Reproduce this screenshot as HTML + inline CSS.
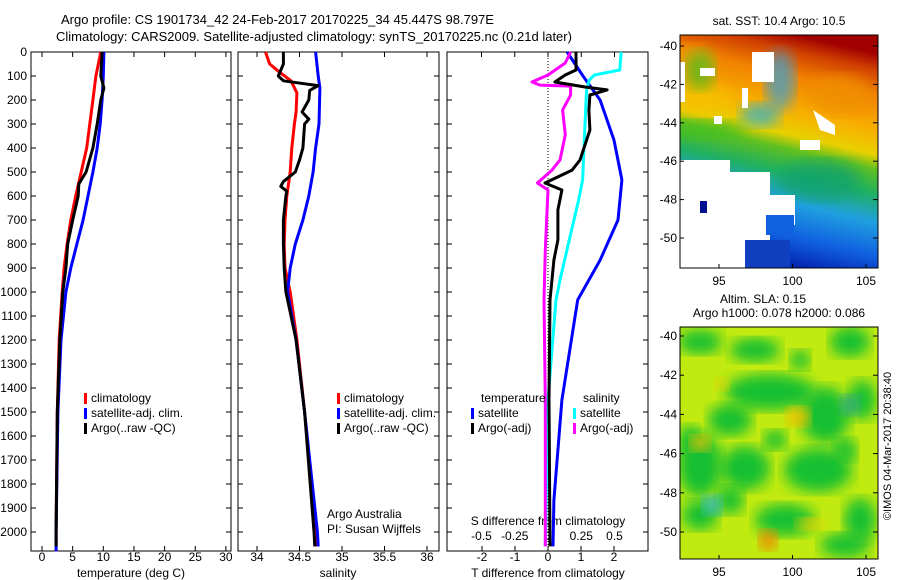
<!DOCTYPE html>
<html><head><meta charset="utf-8"><style>
body{margin:0;background:#fff}
svg{display:block;font-family:"Liberation Sans",sans-serif;font-size:12px}
</style></head><body>
<svg id="c" width="900" height="580" viewBox="0 0 900 580">
<defs>
<linearGradient id="sstg" x1="0.6" y1="0" x2="0.4" y2="1">
<stop offset="0" stop-color="#a00000"/><stop offset="0.07" stop-color="#d04000"/>
<stop offset="0.17" stop-color="#f08000"/><stop offset="0.32" stop-color="#f8b000"/>
<stop offset="0.42" stop-color="#e8d000"/><stop offset="0.48" stop-color="#60c020"/>
<stop offset="0.58" stop-color="#20b060"/><stop offset="0.7" stop-color="#20a0e0"/>
<stop offset="0.84" stop-color="#1060e0"/><stop offset="1" stop-color="#0010a0"/></linearGradient>
<filter id="bl"><feGaussianBlur stdDeviation="7"/></filter>
<clipPath id="m2c"><rect x="680" y="327" width="198" height="232"/></clipPath>
<clipPath id="m1c"><rect x="680" y="35" width="198" height="233"/></clipPath>
</defs>
<g id="root"></g>
</svg>
<script>
// ---- data (depth in dbar) ----
const tDepth=[0,100,200,300,400,500,600,700,800,900,1000,1200,1500,2000,2080];
const tClim=[9.6,8.8,8.3,7.8,7.3,6.4,5.5,4.7,4.1,3.6,3.3,2.8,2.5,2.3,2.3];
const tSat=[10.1,10.0,9.8,9.5,9.0,8.3,7.5,6.7,5.7,4.7,3.9,3.1,2.6,2.3,2.3];
const tArgoD=[0,100,150,200,300,400,500,550,600,700,800,900,1000,1200,1500,2000,2060];
const tArgo=[9.8,9.6,10.1,9.6,9.0,8.3,7.2,6.0,5.9,5.0,4.2,3.9,3.4,2.9,2.5,2.3,2.3];
const sClimD=[0,50,80,120,170,250,300,400,500,600,700,800,900,1000,1200,1500,1800,2000,2060];
const sClim=[34.1,34.15,34.25,34.4,34.47,34.46,34.44,34.41,34.39,34.35,34.33,34.32,34.33,34.39,34.47,34.56,34.64,34.69,34.7];
const sSatD=[0,100,150,300,400,500,600,700,800,900,1000,1200,1500,2000,2060];
const sSat=[34.69,34.72,34.74,34.73,34.69,34.66,34.61,34.54,34.45,34.39,34.36,34.46,34.56,34.71,34.72];
const sArgoD=[0,50,100,120,130,140,160,200,250,280,300,400,450,500,540,560,580,600,700,800,900,1000,1200,1500,2000,2060];
const sArgo=[34.31,34.31,34.25,34.31,34.51,34.72,34.62,34.61,34.53,34.61,34.56,34.54,34.5,34.45,34.31,34.28,34.35,34.34,34.31,34.31,34.32,34.34,34.46,34.56,34.67,34.68];
const dTsD=[0,100,200,367,533,700,867,1033,1450,1867,2060];
const dTsat=[0.58,1.06,1.58,2.0,2.24,2.12,1.58,0.9,0.42,0.18,0.15];
const dSsD=[0,75,96,117,158,283,408,533,617,783,950,1033,1450,2060];
const dSsat=[0.55,0.54,0.35,0.31,0.29,0.28,0.27,0.26,0.23,0.16,0.09,0.06,0,-0.02];
const dSaD=[0,46,96,125,138,142,179,242,345,450,492,546,575,825,1033,1450,2060];
const dSargo=[0.17,0.13,0,-0.12,-0.06,0.17,0.17,0.11,0.13,0.09,0.03,-0.08,0,-0.02,-0.03,-0.02,-0.02];
const dTaD=[0,75,96,125,146,158,179,242,325,450,492,546,575,658,783,867,1033,1450,2060];
const dTargo=[0.85,0.85,0.52,0.21,1.12,1.79,1.27,1.24,1.27,0.97,0.73,-0.09,0.42,0.3,0.3,0.18,0.06,0.03,0.06];
const depthTicks=[0,100,200,300,400,500,600,700,800,900,1000,1100,1200,1300,1400,1500,1600,1700,1800,1900,2000];
const tTicks=[0,5,10,15,20,25,30];
const sTicks=[34,34.5,35,35.5,36];
const dTTicks=[-2,-1,0,1,2];
const dSTicks=[-0.5,-0.25,0,0.25,0.5];
const dSTickLbl=["-0.5","-0.25","0","0.25","0.5"];
const latTicks=[-40,-42,-44,-46,-48,-50];
const lonTicks=[95,100,105];

const NS='http://www.w3.org/2000/svg';
const root=document.getElementById('root');
function el(tag,attrs,parent,txt){const e=document.createElementNS(NS,tag);for(const k in attrs)e.setAttribute(k,attrs[k]);if(txt!==undefined)e.textContent=txt;(parent||root).appendChild(e);return e;}
const Y=d=>52+d*0.24;
const P={t:{f:v=>42+v*6.13},s:{f:v=>257+(v-34)*85},d:{fT:v=>548+v*33,fS:v=>548+v*133}};
const TOP=52,BOT=551;
function line(xs,ds,fx,color,name){const pts=xs.map((v,i)=>fx(v).toFixed(1)+','+Y(ds[i]).toFixed(1)).join(' ');
 const p=el('polyline',{points:pts,fill:'none',stroke:color,'stroke-width':3,'stroke-linejoin':'round'});
 
 }
function frame(x0,x1,name,leftLbl){
 const g=el('g',{});
 el('rect',{x:x0,y:TOP,width:x1-x0,height:BOT-TOP,fill:'none',stroke:'#000','stroke-width':1},g);
 depthTicks.forEach(d=>{el('line',{x1:x0,x2:x0+5,y1:Y(d),y2:Y(d),stroke:'#000'},g);el('line',{x1:x1-5,x2:x1,y1:Y(d),y2:Y(d),stroke:'#000'},g);
  if(leftLbl){const t=el('text',{x:27,y:Y(d)+4,'text-anchor':'end'},g,String(d));}});
 return g;}
let g=frame(31,231,'temperature-panel',true);
tTicks.forEach(v=>{const x=P.t.f(v);el('line',{x1:x,x2:x,y1:BOT,y2:BOT-5,stroke:'#000'},g);el('line',{x1:x,x2:x,y1:TOP,y2:TOP+5,stroke:'#000'},g);el('text',{x:x,y:561,'text-anchor':'middle'},g,String(v));});
el('text',{x:131,y:577,'text-anchor':'middle'},g,'temperature (deg C)');
line(tClim,tDepth,P.t.f,'#f00','temp-climatology-line');
line(tSat,tDepth,P.t.f,'#00f','temp-satellite-line');
line(tArgo,tArgoD,P.t.f,'#000','temp-argo-line');
g=frame(238,439,'salinity-panel',false);
sTicks.forEach(v=>{const x=P.s.f(v);el('line',{x1:x,x2:x,y1:BOT,y2:BOT-5,stroke:'#000'},g);el('line',{x1:x,x2:x,y1:TOP,y2:TOP+5,stroke:'#000'},g);el('text',{x:x,y:561,'text-anchor':'middle'},g,String(v));});
el('text',{x:338,y:577,'text-anchor':'middle'},g,'salinity');
line(sClim,sClimD,P.s.f,'#f00','sal-climatology-line');
line(sSat,sSatD,P.s.f,'#00f','sal-satellite-line');
line(sArgo,sArgoD,P.s.f,'#000','sal-argo-line');
el('text',{x:327,y:518},g,'Argo Australia');
el('text',{x:327,y:533},g,'PI: Susan Wijffels');
g=frame(447,648,'difference-panel',false);
el('line',{x1:548,x2:548,y1:TOP,y2:BOT,stroke:'#000','stroke-dasharray':'1,2'},g);
dTTicks.forEach(v=>{const x=P.d.fT(v);el('line',{x1:x,x2:x,y1:BOT,y2:BOT-5,stroke:'#000'},g);el('text',{x:x,y:561,'text-anchor':'middle'},g,String(v));});
dSTicks.forEach((v,i)=>{const x=P.d.fS(v);el('line',{x1:x,x2:x,y1:TOP,y2:TOP+5,stroke:'#000'},g);el('text',{x:x,y:540,'text-anchor':'middle'},g,dSTickLbl[i]);});
el('text',{x:548,y:525,'text-anchor':'middle'},g,'S difference from climatology');
el('text',{x:548,y:577,'text-anchor':'middle'},g,'T difference from climatology');
line(dTsat,dTsD,P.d.fT,'#00f','dt-satellite-line');
line(dSsat,dSsD,P.d.fS,'#0ff','ds-satellite-line');
line(dSargo,dSaD,P.d.fS,'#f0f','ds-argo-line');
line(dTargo,dTaD,P.d.fT,'#000','dt-argo-line');
function leg(x,y,color,txt,name){const lg=el('g',{});
 el('rect',{x:x,y:y-9,width:3,height:11,fill:color},lg);el('text',{x:x+7,y:y},lg,txt);}
leg(84,402,'#f00','climatology','legend-temp-climatology');
leg(84,417,'#00f','satellite-adj. clim.','legend-temp-satellite');
leg(84,432,'#000','Argo(..raw -QC)','legend-temp-argo');
leg(337,402,'#f00','climatology','legend-sal-climatology');
leg(337,417,'#00f','satellite-adj. clim.','legend-sal-satellite');
leg(337,432,'#000','Argo(..raw -QC)','legend-sal-argo');
el('text',{x:481,y:402},null,'temperature');
el('text',{x:583,y:402},null,'salinity');
leg(471,417,'#00f','satellite','legend-dt-satellite');
leg(471,432,'#000','Argo(-adj)','legend-dt-argo');
leg(573,417,'#0ff','satellite','legend-ds-satellite');
leg(573,432,'#f0f','Argo(-adj)','legend-ds-argo');
el('text',{x:61,y:24,'font-size':'13'},null,'Argo profile: CS 1901734_42 24-Feb-2017 20170225_34 45.447S 98.797E');
el('text',{x:56,y:41,'font-size':'13'},null,'Climatology: CARS2009. Satellite-adjusted climatology: synTS_20170225.nc (0.21d later)');
function mapFrame(y0,y1,latTop,pxDeg,name){const mg=el('g',{});
 el('rect',{x:680,y:y0,width:198,height:y1-y0,fill:'none',stroke:'#000'},mg);
 latTicks.forEach(v=>{const y=latTop+(-40-v)*pxDeg;el('line',{x1:873,x2:878,y1:y,y2:y,stroke:'#000'},mg);el('line',{x1:680,x2:684,y1:y,y2:y,stroke:'#000'},mg);el('text',{x:677,y:y+4,'text-anchor':'end'},mg,String(v));});
 lonTicks.forEach(v=>{const x=719+(v-95)*14.7;el('line',{x1:x,x2:x,y1:y1,y2:y1-4,stroke:'#000'},mg);el('text',{x:x,y:y1+17,'text-anchor':'middle'},mg,String(v));});
 return mg;}
// top SST map
const m1=el('g',{'clip-path':'url(#m1c)'});
el('rect',{x:680,y:35,width:198,height:233,fill:'url(#sstg)'},m1);
[[690,65,25,20,'#f8a000'],[700,100,30,15,'#f8c000'],[760,115,20,12,'#20b0e0'],[705,130,40,10,'#40c020'],[780,80,15,30,'#30a0e0'],[840,95,30,20,'#f09000'],[820,180,40,20,'#10a070'],[700,70,15,20,'#40c020']].forEach(b=>el('ellipse',{cx:b[0],cy:b[1],rx:b[2],ry:b[3],fill:b[4],opacity:0.7,filter:'url(#bl)'},m1));
[[680,160,50,108],[730,172,40,96],[770,195,25,30],[680,62,5,40],[752,52,22,30],[800,140,20,10],[714,116,8,8],[700,68,15,8],[742,88,6,20]].forEach(r=>el('rect',{x:r[0],y:r[1],width:r[2],height:r[3],fill:'#fff'},m1));
el('path',{d:'M813 110 L835 125 L835 135 L820 130 Z',fill:'#fff'},m1);
el('rect',{x:745,y:240,width:45,height:28,fill:'#1040c0'},m1);
el('rect',{x:766,y:215,width:28,height:20,fill:'#1060e0'},m1);
el('rect',{x:700,y:201,width:7,height:12,fill:'#001090'},m1);
el('text',{x:779,y:25,'text-anchor':'middle'},null,'sat. SST: 10.4  Argo: 10.5');
mapFrame(35,268,46,19.2,'sst-map-axes');
// bottom SLA map
const m2=el('g',{'clip-path':'url(#m2c)'});
el('rect',{x:680,y:327,width:198,height:232,fill:'#c0ea10'},m2);
const blobs=[[700,342,22,12],[755,350,25,12],[770,392,45,18],[850,342,20,15],[730,420,22,16],[825,415,25,28],[862,400,14,20],[700,465,22,32],[745,468,25,22],[818,470,34,22],[700,515,18,15],[785,520,30,16],[860,520,16,22],[845,450,12,12],[690,440,10,15],[775,440,12,10],[800,360,10,10],[730,500,14,14],[845,545,25,12]];
blobs.forEach(b=>el('ellipse',{cx:b[0],cy:b[1],rx:b[2],ry:b[3],fill:'#18c030',filter:'url(#bl)'},m2));
[[712,505,10,10,'#30b8c0'],[850,405,10,10,'#30a880']].forEach(b=>el('ellipse',{cx:b[0],cy:b[1],rx:b[2],ry:b[3],fill:b[4],filter:'url(#bl)'},m2));
[[798,417,12,10,'#f0c000'],[700,443,10,8,'#f0c000'],[768,540,9,10,'#f08000'],[722,384,7,6,'#f0d000'],[810,524,14,6,'#f0d000']].forEach(b=>el('ellipse',{cx:b[0],cy:b[1],rx:b[2],ry:b[3],fill:b[4],filter:'url(#bl)'},m2));
el('text',{x:763,y:303,'text-anchor':'middle'},null,'Altim. SLA: 0.15');
el('text',{x:779,y:317,'text-anchor':'middle'},null,'Argo h1000: 0.078 h2000: 0.086');
mapFrame(327,559,336,19.6,'sla-map-axes');
el('text',{x:891,y:446,'text-anchor':'middle',transform:'rotate(-90 891 446)','font-size':'11'},null,'©IMOS 04-Mar-2017 20:38:40');
</script>
</body></html>
